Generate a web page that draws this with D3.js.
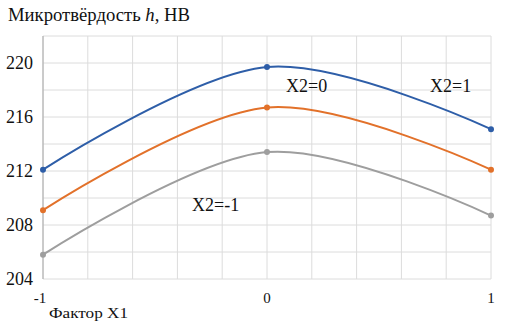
<!DOCTYPE html>
<html>
<head>
<meta charset="utf-8">
<script src="https://cdn.jsdelivr.net/npm/d3@7"></script>
<style>
  body { margin: 0; background: #fff; }
</style>
</head>
<body>
<div id="chart"></div>
<script>
var xValues = [-1, 0, 1];
var xTicks = [-1, 0, 1];
var yTicks = [204, 208, 212, 216, 220];
var seriesBlue = [212.1, 219.7, 215.1];
var seriesOrange = [209.1, 216.7, 212.1];
var seriesGray = [205.8, 213.4, 208.7];
var seriesColors = ['#2e5ea8', '#e2712a', '#9e9e9e'];
var seriesLabels = ['X2=0', 'X2=1', 'X2=-1'];

var serif = "'Liberation Serif', 'Times New Roman', 'DejaVu Serif', serif";
var width = 510, height = 324;
var svg = d3.select('#chart').append('svg')
    .attr('width', width)
    .attr('height', height)
    .attr('font-family', serif)
    .style('font-family', serif);

var x = d3.scaleLinear().domain([-1, 1]).range([43, 491]);
var y = d3.scaleLinear().domain([204, 222]).range([279, 36]);

// grid
svg.append('g').selectAll('line')
    .data(d3.range(-1, 1.0001, 0.2))
    .enter().append('line')
    .attr('x1', function(d) { return x(d); })
    .attr('x2', function(d) { return x(d); })
    .attr('y1', y(222)).attr('y2', y(204))
    .style('stroke', '#dcdcdc').style('stroke-width', 1);

svg.append('g').selectAll('line')
    .data(d3.range(204, 222.001, 2))
    .enter().append('line')
    .attr('x1', x(-1)).attr('x2', x(1))
    .attr('y1', function(d) { return y(d); })
    .attr('y2', function(d) { return y(d); })
    .style('stroke', '#dcdcdc').style('stroke-width', 1);

// left axis line
svg.append('line')
    .attr('x1', x(-1)).attr('x2', x(-1))
    .attr('y1', y(222)).attr('y2', y(204))
    .style('stroke', '#a8a8a8');

// y tick labels
svg.append('g').selectAll('text')
    .data(yTicks)
    .enter().append('text')
    .attr('x', 33)
    .attr('y', function(d) { return y(d) + 6; })
    .attr('text-anchor', 'end')
    .style('font-size', '18px')
    .style('fill', '#111')
    .text(function(d) { return d; });

// x tick labels
svg.append('g').selectAll('text')
    .data(xTicks)
    .enter().append('text')
    .attr('x', function(d) { return x(d) + (d === -1 ? -3 : 0); })
    .attr('y', 303)
    .attr('text-anchor', 'middle')
    .style('font-size', '15px')
    .style('fill', '#111')
    .text(function(d) { return d; });

var line = d3.line()
    .x(function(d, i) { return x(xValues[i]); })
    .y(function(d) { return y(d); })
    .curve(d3.curveCatmullRom.alpha(0));

[seriesGray, seriesOrange, seriesBlue].forEach(function(s, k) {
    var color = seriesColors[2 - k];
    svg.append('path')
        .datum(s)
        .attr('d', line)
        .style('fill', 'none')
        .style('stroke', color)
        .style('stroke-width', 2);
    svg.append('g').selectAll('circle')
        .data(s)
        .enter().append('circle')
        .attr('cx', function(d, i) { return x(xValues[i]); })
        .attr('cy', function(d) { return y(d); })
        .attr('r', 3)
        .style('fill', color);
});

// series labels
var labelPos = [[286, 92], [430, 92], [192, 211]];
svg.append('g').selectAll('text')
    .data(seriesLabels)
    .enter().append('text')
    .attr('x', function(d, i) { return labelPos[i][0]; })
    .attr('y', function(d, i) { return labelPos[i][1]; })
    .style('font-size', '18px')
    .style('fill', '#111')
    .text(function(d) { return d; });

// title
var title = svg.append('text')
    .attr('x', 8).attr('y', 21)
    .attr('textLength', 182)
    .attr('lengthAdjust', 'spacingAndGlyphs')
    .style('font-size', '18px')
    .style('fill', '#111');
title.append('tspan').text('Микротвёрдость ');
title.append('tspan').style('font-style', 'italic').text('h');
title.append('tspan').text(', HB');

// x axis title
svg.append('text')
    .attr('x', 49).attr('y', 318)
    .attr('textLength', 79)
    .attr('lengthAdjust', 'spacingAndGlyphs')
    .style('font-size', '14px')
    .style('fill', '#111')
    .text('Фактор X1');
</script>
</body>
</html>
